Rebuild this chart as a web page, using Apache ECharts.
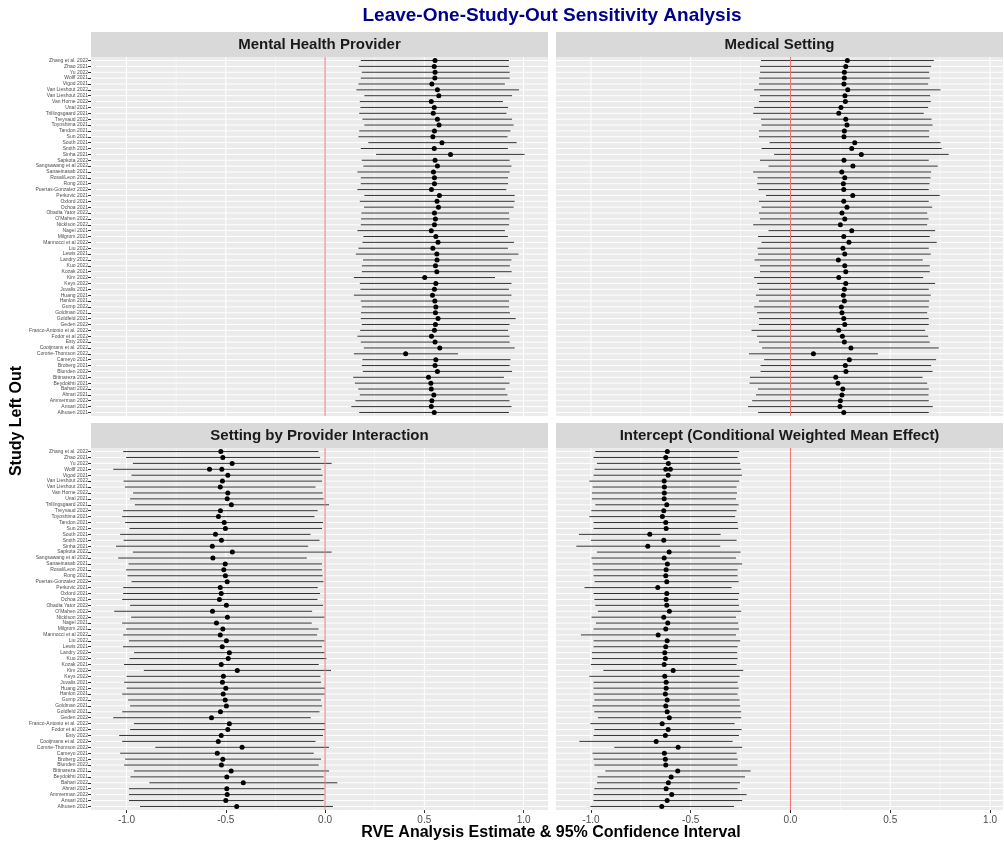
<!DOCTYPE html>
<html>
<head>
<meta charset="utf-8">
<script src="https://cdn.jsdelivr.net/npm/echarts@6/dist/echarts.min.js"></script>
<style>
  html, body { margin: 0; padding: 0; background: #fff; }
  #chart { width: 1004px; height: 846px; }
</style>
</head>
<body>
<div id="chart"></div>
<script>
// study labels, top to bottom
const studies = [
  "Zhang et al. 2022", "Zhao 2021", "Yu 2022", "Wolff 2021", "Vigod 2021",
  "Van Lieshout 2022", "Van Lieshout 2021", "Van Horne 2022", "Unal 2021", "Trillingsgaard 2021",
  "Treyvaud 2022", "Toyoshima 2021", "Tandon 2021", "Sun 2021", "South 2021",
  "Smith 2021", "Sinha 2021", "Sapkota 2022", "Sangsawang et al 2022", "Sanaeinasab 2021",
  "Rosal/Leon 2021", "Rong 2021", "Puertas-Gonzalez 2022", "Perkovic 2021", "Oxford 2021",
  "Ochoa 2021", "Obadia Yator 2022", "O'Mahen 2022", "Nicklson 2022", "Nagel 2021",
  "Milgrom 2021", "Mannocci et al 2022", "Liu 2022", "Lewis 2021", "Landry 2022",
  "Kuo 2022", "Kozak 2021", "Kim 2022", "Keys 2022", "Juvalis 2021",
  "Huang 2021", "Hanlon 2021", "Gump 2022", "Goldman 2021", "Goldfeld 2021",
  "Geden 2022", "Franco-Antonio et al. 2022", "Fodor et al 2022", "Esty 2022", "Cooijmans et al. 2022",
  "Comrie-Thomson 2022", "Cameyo 2021", "Broberg 2021", "Blunden 2022", "Bittnareza 2021",
  "Beydokhti 2021", "Bahari 2022", "Ahrari 2021", "Ammerman 2022", "Ansari 2021",
  "Alhusen 2021"
]

const panelNames = ["Mental Health Provider", "Medical Setting",
  "Setting by Provider Interaction", "Intercept (Conditional Weighted Mean Effect)"]

const xTicks = [-1, -0.5, 0, 0.5, 1]
const xMinor = [-0.75, -0.25, 0.25, 0.75]

// Mental Health Provider
const mhEst = [0.554,0.55,0.554,0.553,0.538,0.566,0.573,0.535,0.55,0.545,0.566,0.574,0.551,0.543,0.589,0.55,0.632,0.554,0.566,0.546,0.551,0.551,0.536,0.576,0.564,0.571,0.551,0.556,0.551,0.535,0.558,0.569,0.543,0.563,0.564,0.556,0.563,0.502,0.558,0.551,0.541,0.553,0.558,0.556,0.569,0.556,0.551,0.536,0.554,0.578,0.406,0.558,0.554,0.566,0.521,0.533,0.535,0.548,0.538,0.535,0.55]
const mhLo = [0.18,0.17,0.185,0.18,0.168,0.158,0.198,0.175,0.178,0.172,0.188,0.198,0.172,0.168,0.218,0.18,0.257,0.185,0.193,0.163,0.18,0.18,0.163,0.198,0.175,0.196,0.183,0.181,0.18,0.163,0.193,0.188,0.168,0.155,0.191,0.185,0.185,0.145,0.175,0.178,0.145,0.18,0.185,0.181,0.18,0.185,0.177,0.163,0.18,0.195,0.145,0.188,0.185,0.19,0.142,0.15,0.167,0.175,0.153,0.132,0.172]
const mhHi = [0.926,0.926,0.93,0.93,0.906,0.977,0.942,0.896,0.922,0.914,0.942,0.95,0.934,0.919,0.965,0.921,1.005,0.93,0.939,0.93,0.922,0.922,0.913,0.955,0.955,0.95,0.927,0.929,0.927,0.906,0.921,0.952,0.921,0.974,0.939,0.931,0.94,0.856,0.939,0.926,0.939,0.927,0.927,0.931,0.96,0.929,0.922,0.929,0.93,0.955,0.67,0.934,0.93,0.942,0.901,0.929,0.908,0.919,0.929,0.939,0.926]

// Medical Setting
const msEst = [0.285,0.277,0.27,0.27,0.268,0.287,0.273,0.275,0.253,0.242,0.277,0.283,0.27,0.268,0.322,0.307,0.355,0.268,0.313,0.257,0.272,0.265,0.267,0.312,0.267,0.283,0.258,0.272,0.25,0.307,0.267,0.293,0.263,0.272,0.24,0.272,0.277,0.242,0.277,0.27,0.265,0.27,0.255,0.258,0.267,0.272,0.242,0.26,0.27,0.303,0.115,0.295,0.275,0.278,0.227,0.238,0.262,0.258,0.25,0.248,0.267]
const msLo = [-0.148,-0.153,-0.152,-0.157,-0.158,-0.182,-0.153,-0.158,-0.182,-0.187,-0.148,-0.145,-0.158,-0.158,-0.105,-0.145,-0.082,-0.153,-0.11,-0.187,-0.165,-0.167,-0.16,-0.123,-0.158,-0.145,-0.158,-0.153,-0.187,-0.11,-0.163,-0.145,-0.165,-0.163,-0.18,-0.153,-0.153,-0.182,-0.167,-0.158,-0.173,-0.158,-0.182,-0.167,-0.158,-0.158,-0.195,-0.168,-0.158,-0.142,-0.208,-0.132,-0.15,-0.15,-0.203,-0.205,-0.163,-0.173,-0.192,-0.213,-0.162]
const msHi = [0.718,0.705,0.695,0.698,0.69,0.752,0.7,0.703,0.69,0.668,0.707,0.712,0.695,0.695,0.752,0.758,0.793,0.693,0.738,0.705,0.702,0.697,0.693,0.748,0.693,0.71,0.685,0.692,0.685,0.725,0.698,0.733,0.693,0.703,0.663,0.698,0.698,0.665,0.725,0.693,0.703,0.695,0.693,0.685,0.693,0.693,0.675,0.69,0.698,0.743,0.438,0.73,0.705,0.712,0.662,0.685,0.693,0.692,0.693,0.713,0.693]

// Setting by Provider Interaction
const spEst = [-0.525,-0.515,-0.468,-0.52,-0.49,-0.517,-0.528,-0.49,-0.493,-0.472,-0.527,-0.537,-0.508,-0.502,-0.552,-0.522,-0.568,-0.467,-0.565,-0.503,-0.51,-0.502,-0.493,-0.528,-0.523,-0.532,-0.497,-0.567,-0.492,-0.547,-0.515,-0.528,-0.497,-0.518,-0.482,-0.488,-0.523,-0.442,-0.512,-0.517,-0.5,-0.513,-0.503,-0.497,-0.527,-0.572,-0.482,-0.49,-0.523,-0.538,-0.418,-0.543,-0.515,-0.522,-0.473,-0.495,-0.412,-0.495,-0.493,-0.5,-0.445]
const spLo = [-1.017,-1.002,-0.968,-1.067,-0.975,-1.015,-1.008,-0.967,-0.982,-0.958,-1.017,-1.022,-1.007,-0.985,-1.032,-1.015,-1.053,-0.968,-1.042,-0.99,-1.003,-0.995,-0.975,-1.017,-1.017,-1.022,-0.982,-1.062,-0.977,-1.022,-1.002,-1.017,-0.988,-1.018,-0.962,-0.985,-1.013,-0.913,-1.0,-1.012,-1.0,-1.022,-0.992,-0.982,-1.022,-1.067,-0.963,-0.982,-1.037,-1.022,-0.855,-1.032,-1.007,-1.012,-0.963,-0.98,-0.885,-0.988,-0.988,-0.988,-0.932]
const spHi = [-0.033,-0.025,0.033,-0.02,-0.012,-0.015,-0.048,-0.012,-0.007,0.02,-0.037,-0.053,-0.01,-0.015,-0.073,-0.028,-0.085,0.033,-0.092,-0.015,-0.015,-0.012,-0.008,-0.037,-0.025,-0.038,-0.01,-0.065,-0.003,-0.067,-0.033,-0.04,-0.003,-0.015,-0.003,0.007,-0.032,0.03,-0.023,-0.02,0.0,-0.003,-0.02,-0.015,-0.028,-0.072,0.0,0.0,-0.01,-0.048,0.02,-0.057,-0.02,-0.032,0.02,-0.007,0.062,-0.003,-0.003,-0.007,0.04]

// Intercept
const inEst = [-0.617,-0.625,-0.612,-0.625,-0.613,-0.633,-0.632,-0.632,-0.633,-0.62,-0.635,-0.642,-0.625,-0.623,-0.705,-0.635,-0.715,-0.608,-0.633,-0.617,-0.623,-0.625,-0.62,-0.665,-0.62,-0.623,-0.62,-0.607,-0.635,-0.615,-0.625,-0.663,-0.618,-0.625,-0.63,-0.627,-0.633,-0.588,-0.63,-0.623,-0.623,-0.627,-0.618,-0.625,-0.618,-0.607,-0.643,-0.613,-0.627,-0.673,-0.563,-0.632,-0.627,-0.625,-0.565,-0.598,-0.612,-0.623,-0.595,-0.618,-0.645]
const inLo = [-0.978,-0.987,-0.97,-0.982,-0.987,-1.008,-0.992,-0.995,-0.995,-0.978,-0.998,-1.008,-0.987,-0.987,-1.06,-1.0,-1.073,-0.97,-0.997,-0.992,-0.987,-0.987,-0.982,-1.032,-0.987,-0.983,-0.978,-0.965,-0.997,-0.975,-0.987,-1.05,-0.987,-0.987,-0.995,-0.995,-1.0,-0.938,-1.008,-0.987,-0.987,-0.987,-0.983,-0.992,-0.983,-0.965,-1.003,-0.983,-0.987,-1.058,-0.883,-0.992,-0.987,-0.983,-0.928,-0.967,-0.97,-0.983,-0.987,-0.987,-1.003]
const inHi = [-0.257,-0.265,-0.252,-0.247,-0.243,-0.257,-0.27,-0.268,-0.273,-0.26,-0.27,-0.277,-0.265,-0.262,-0.35,-0.27,-0.352,-0.25,-0.273,-0.242,-0.265,-0.265,-0.26,-0.295,-0.257,-0.262,-0.258,-0.247,-0.273,-0.262,-0.258,-0.273,-0.252,-0.265,-0.267,-0.265,-0.27,-0.237,-0.255,-0.265,-0.26,-0.265,-0.255,-0.252,-0.247,-0.247,-0.28,-0.245,-0.258,-0.29,-0.242,-0.27,-0.265,-0.265,-0.2,-0.228,-0.253,-0.265,-0.22,-0.242,-0.283]

// second estimate drawn on the duplicated Wolff row (one per panel)
const wolffAlt = [null, null, -0.582, -0.602]

const panelData = [
  { est: mhEst, lo: mhLo, hi: mhHi },
  { est: msEst, lo: msLo, hi: msHi },
  { est: spEst, lo: spLo, hi: spHi },
  { est: inEst, lo: inLo, hi: inHi }
]

// layout (px)
const cols = [{ left: 91, width: 457, min: -1.179, max: 1.123 },
              { left: 556, width: 447, min: -1.175, max: 1.065 }]
const rows = [{ top: 57, height: 359 }, { top: 448, height: 362 }]

const FONT = "Liberation Sans, Arial, sans-serif"
const rowIdx = studies.map((s, i) => i)
const yMin = -0.6, yMax = studies.length - 0.4

let grids = [], xAxes = [], yAxes = [], series = [], graphics = []

// a custom series drawing one straight segment per data item
function segSeries(k, z, data, color, width, toPts) {
  return {
    type: "custom", xAxisIndex: k, yAxisIndex: k, z: z, silent: true,
    data: data, encode: { x: 0, y: 1 },
    renderItem(params, api) {
      const [p0, p1] = toPts(api)
      const a = api.coord(p0), b = api.coord(p1)
      const minor = api.value(2) === 1
      return { type: "line", shape: { x1: a[0], y1: a[1], x2: b[0], y2: b[1] },
        style: { stroke: color, lineWidth: minor ? width[1] : width[0] } }
    }
  }
}

panelData.forEach((p, k) => {
  const c = cols[k % 2], r = rows[Math.floor(k / 2)]
  const showY = k % 2 === 0
  const showX = k >= 2

  grids.push({ left: c.left, width: c.width, top: r.top, height: r.height,
    show: true, backgroundColor: "#EBEBEB", borderWidth: 0 })

  xAxes.push({
    type: "value", gridIndex: k, min: c.min, max: c.max, position: "bottom",
    axisLine: { show: false, onZero: false },
    splitLine: { show: false },
    axisTick: { show: showX, length: 3, customValues: xTicks, lineStyle: { color: "#333" } },
    axisLabel: { show: showX, customValues: xTicks, formatter: v => v.toFixed(1),
      fontSize: 10, color: "#4D4D4D", fontFamily: FONT, margin: 5 }
  })

  yAxes.push({
    type: "value", gridIndex: k, min: yMin, max: yMax, inverse: true, position: "left",
    axisLine: { show: false, onZero: false },
    splitLine: { show: false },
    axisTick: { show: showY, length: 3, customValues: rowIdx, lineStyle: { color: "#333" } },
    axisLabel: { show: showY, customValues: rowIdx, formatter: v => studies[v] || "",
      fontSize: 5, color: "#4D4D4D", fontFamily: FONT, margin: 3 }
  })

  // horizontal row grid lines (white)
  series.push(segSeries(k, 1, rowIdx.map(i => [c.min, i, 0]), "#fff", [1, 1],
    api => [[c.min, api.value(1)], [c.max, api.value(1)]]))
  // vertical grid lines: major (flag 0) and minor (flag 1)
  const vData = xTicks.map(v => [v, 0, 0]).concat(xMinor.map(v => [v, 0, 1]))
  series.push(segSeries(k, 1, vData, "#fff", [1, 0.5],
    api => [[api.value(0), yMin], [api.value(0), yMax]]))

  // confidence intervals
  series.push(segSeries(k, 3, p.lo.map((lo, i) => [lo, i, 0]), "#333", [1, 1],
    api => [[api.value(0), api.value(1)], [p.hi[api.value(1)], api.value(1)]]))

  // zero reference line
  series.push(segSeries(k, 4, [[0, 0, 0]], "#F07373", [1, 1],
    api => [[0, yMin], [0, yMax]]))

  // point estimates
  const pts = p.est.map((v, i) => [v, i])
  if (wolffAlt[k] !== null) pts.push([wolffAlt[k], 3])
  series.push({
    type: "scatter", xAxisIndex: k, yAxisIndex: k, z: 5, silent: true,
    symbolSize: 5, itemStyle: { color: "#000", opacity: 1 }, data: pts
  })

  // facet strip
  graphics.push({ type: "rect", left: c.left, top: r.top - 25,
    shape: { width: c.width, height: 25 }, style: { fill: "#D9D9D9" } })
  graphics.push({ type: "text", x: c.left + c.width / 2, y: r.top - 12.5,
    style: { text: panelNames[k], fill: "#1A1A1A", font: "bold 15px " + FONT,
      align: "center", verticalAlign: "middle" } })
})

graphics.push({ type: "text", x: 552, y: 16,
  style: { text: "Leave-One-Study-Out Sensitivity Analysis", fill: "#00008B",
    font: "bold 19px " + FONT, align: "center", verticalAlign: "middle" } })
graphics.push({ type: "text", x: 551, y: 833,
  style: { text: "RVE Analysis Estimate & 95% Confidence Interval", fill: "#000",
    font: "bold 16px " + FONT, align: "center", verticalAlign: "middle" } })
graphics.push({ type: "text", x: 17, y: 421, rotation: Math.PI / 2,
  style: { text: "Study Left Out", fill: "#000",
    font: "bold 16px " + FONT, align: "center", verticalAlign: "middle" } })

const chart = echarts.init(document.getElementById("chart"), null, { renderer: "canvas" })
chart.setOption({
  animation: false,
  backgroundColor: "#fff",
  grid: grids,
  xAxis: xAxes,
  yAxis: yAxes,
  series: series,
  graphic: graphics
})
</script>
</body>
</html>
